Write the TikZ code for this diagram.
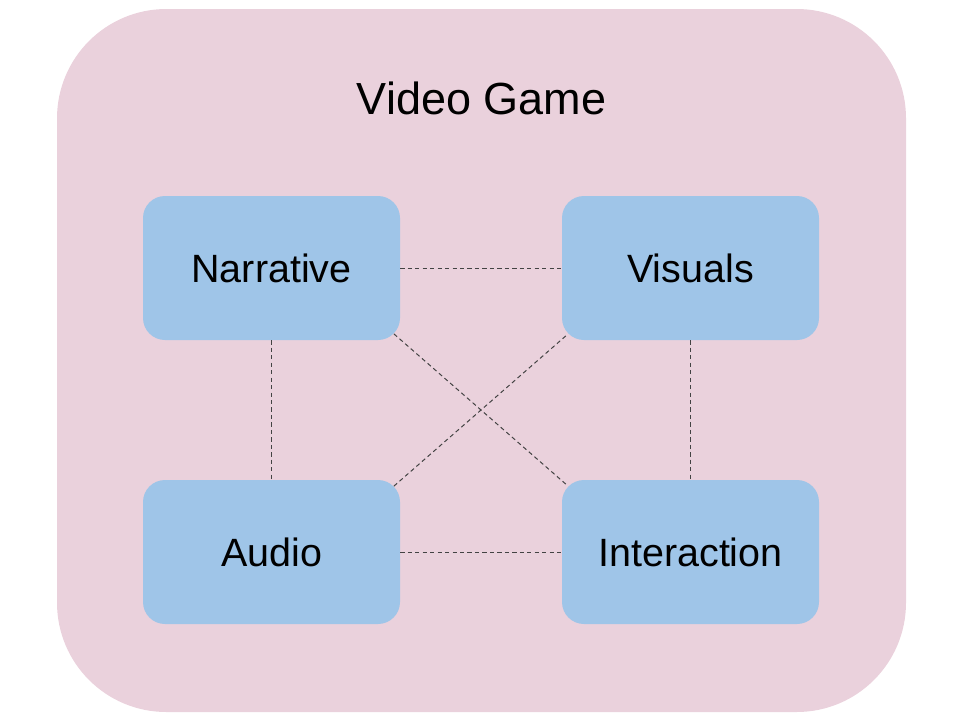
\documentclass[tikz,border=0pt]{standalone}
\usepackage{fontspec}
\setmainfont{Liberation Sans}
\usetikzlibrary{calc}
\definecolor{gamepink}{HTML}{EAD1DC}
\definecolor{partblue}{HTML}{9FC5E8}
\definecolor{linkgray}{HTML}{434343}
\begin{document}
\begin{tikzpicture}[x=0.75pt, y=-0.75pt,
  part/.style={rectangle, fill=partblue, rounded corners=16.5pt, inner sep=0pt,
    minimum width=192.75pt, minimum height=108pt, font=\fontsize{29.6}{35}\selectfont},
  link/.style={draw=linkgray, line width=0.75pt, dash pattern=on 3.2pt off 2.4pt}]
  \useasboundingbox (0,0) rectangle (962,721);

  % Outer container
  \node[rectangle, fill=gamepink, rounded corners=82pt, inner sep=0pt,
    minimum width=636.75pt, minimum height=527.25pt] (game) at (481.5, 360.5) {};
  \node[font=\fontsize{33.75}{40}\selectfont, inner sep=0pt] (title) at (481.5, 98) {Video Game};

  % Parts
  \node[part] (narr) at (271.5, 268) {Narrative};
  \node[part] (vis) at (690.5, 268) {Visuals};
  \node[part] (audio) at (271.5, 552) {Audio};
  \node[part] (inter) at (690.5, 552) {Interaction};

  % Links along the sides
  \draw[link] (narr) -- (vis);
  \draw[link] (audio) -- (inter);
  \draw[link] (narr) -- (audio);
  \draw[link] (vis) -- (inter);

  % Crossing links (from the rounded corners)
  \draw[link] ($(narr.south east)+(-6.4,-6.4)$) -- ($(inter.north west)+(6.4,6.4)$);
  \draw[link] ($(audio.north east)+(-6.4,6.4)$) -- ($(vis.south west)+(6.4,-6.4)$);
\end{tikzpicture}
\end{document}
